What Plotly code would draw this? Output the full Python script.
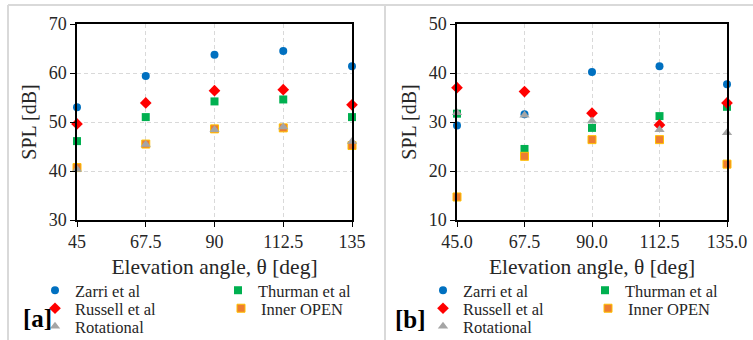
import plotly.graph_objects as go

angles = [45, 67.5, 90, 112.5, 135]
series_names = ["Zarri et al", "Thurman et al", "Russell et al", "Inner OPEN", "Rotational"]

# Panel [a]
a_zarri = [53.0, 59.4, 63.7, 64.5, 61.4]
a_thurman = [46.1, 51.0, 54.2, 54.6, 51.0]
a_russell = [49.6, 53.9, 56.4, 56.6, 53.5]
a_inner = [40.7, 45.5, 48.6, 48.8, 45.2]
a_rot = [40.3, 45.4, 48.4, 49.0, 46.0]

# Panel [b]
b_zarri = [29.3, 31.6, 40.2, 41.4, 37.7]
b_thurman = [31.7, 24.5, 28.8, 31.2, 33.1]
b_russell = [37.0, 36.2, 31.8, 29.4, 33.9]
b_inner = [14.7, 23.0, 26.4, 26.4, 21.4]
b_rot = [31.9, 31.4, 30.2, 28.4, 27.8]

a_ticktext = ["45", "67.5", "90", "112.5", "135"]
b_ticktext = ["45.0", "67.5", "90.0", "112.5", "135.0"]

W, H = 753, 340
FONT = "Liberation Serif, Times New Roman, serif"
TXT = "#262626"

styles = [
    dict(symbol="circle", size=8, color="#0070C0", line=dict(width=0)),
    dict(symbol="square", size=8, color="#00B050", line=dict(width=0)),
    dict(symbol="diamond", size=9, color="#FF0000", line=dict(width=0)),
    dict(symbol="square", size=8, color="#ED7D31", line=dict(width=1, color="#FFC000")),
    dict(symbol="triangle-up", size=9, color="#A5A5A5", line=dict(width=0)),
]

fig = go.Figure()

panels = [
    ("x", "y", [a_zarri, a_thurman, a_russell, a_inner, a_rot]),
    ("x2", "y2", [b_zarri, b_thurman, b_russell, b_inner, b_rot]),
]

legend_ids = []
k = 0
for pi, (xa, ya, data) in enumerate(panels):
    for si, vals in enumerate(data):
        k += 1
        lid = "legend" if k == 1 else f"legend{k}"
        legend_ids.append(lid)
        fig.add_trace(go.Scatter(
            x=angles, y=vals, mode="markers", name=series_names[si],
            marker=styles[si], xaxis=xa, yaxis=ya, legend=lid,
            cliponaxis=False, showlegend=True,
        ))

# legend positions (pixel): panel a and b, order Zarri, Thurman, Russell, Inner, Rot
leg_pos = [
    (35, 290.5), (218, 290.5), (35, 308.5), (221, 308.5), (35, 326.5),
    (423, 290.5), (585, 290.5), (423, 308.5), (588, 308.5), (423, 326.5),
]
layout_legends = {}
for lid, (px, py) in zip(legend_ids, leg_pos):
    layout_legends[lid] = dict(
        x=px / W, y=1 - py / H, xanchor="left", yanchor="middle",
        xref="paper", yref="paper", bgcolor="rgba(0,0,0,0)",
        font=dict(family=FONT, size=16.5, color=TXT), itemwidth=30,
    )

common_x = dict(
    tickmode="array", tickvals=angles, range=[45, 135], automargin=False,
    showgrid=True, gridcolor="#D9D9D9", griddash="4px,3px", gridwidth=1,
    showline=True, linecolor="black", linewidth=1.5, mirror=True,
    ticks="outside", ticklen=5, tickcolor="black", tickwidth=1,
    tickfont=dict(family=FONT, size=18, color=TXT),
    zeroline=False, fixedrange=True,
    title=dict(text="Elevation angle, θ [deg]", font=dict(family=FONT, size=21.5, color=TXT), standoff=8),
)
common_y = dict(
    showgrid=True, gridcolor="#D9D9D9", griddash="4px,3px", gridwidth=1, automargin=False,
    showline=True, linecolor="black", linewidth=1.5, mirror=True,
    ticks="outside", ticklen=5, tickcolor="black", tickwidth=1,
    tickfont=dict(family=FONT, size=18, color=TXT),
    zeroline=False, dtick=10, fixedrange=True,
    title=dict(text="SPL [dB]", font=dict(family=FONT, size=20, color=TXT), standoff=7),
)

fig.update_layout(
    width=W, height=H, margin=dict(l=0, r=0, t=0, b=0, autoexpand=False),
    paper_bgcolor="white", plot_bgcolor="white",
    xaxis=dict(common_x, domain=[77 / W, 352 / W], ticktext=a_ticktext, anchor="y"),
    yaxis=dict(common_y, domain=[1 - 220 / H, 1 - 24 / H], range=[30, 70], anchor="x"),
    xaxis2=dict(common_x, domain=[457 / W, 727 / W], ticktext=b_ticktext, anchor="y2"),
    yaxis2=dict(common_y, domain=[1 - 220 / H, 1 - 24 / H], range=[10, 50], anchor="x2"),
    **layout_legends,
    shapes=[
        dict(type="line", xref="paper", yref="paper", x0=8 / W, x1=1, y0=1 - 5 / H, y1=1 - 5 / H,
             line=dict(color="#D9D9D9", width=2)),
        dict(type="line", xref="paper", yref="paper", x0=8 / W, x1=8 / W, y0=0, y1=1 - 5 / H,
             line=dict(color="#D9D9D9", width=2)),
        dict(type="line", xref="paper", yref="paper", x0=385 / W, x1=385 / W, y0=0, y1=1 - 5 / H,
             line=dict(color="#D9D9D9", width=2)),
    ],
    annotations=[
        dict(text="<b>[a]</b>", x=37 / W, y=1 - 318 / H, xref="paper", yref="paper",
             showarrow=False, font=dict(family=FONT, size=25, color="black"),
             xanchor="center", yanchor="middle"),
        dict(text="<b>[b]</b>", x=411 / W, y=1 - 319 / H, xref="paper", yref="paper",
             showarrow=False, font=dict(family=FONT, size=25, color="black"),
             xanchor="center", yanchor="middle"),
    ],
)

fig.write_html("out.html", config={"displayModeBar": False},
               post_script="document.body.style.margin='0px';")
